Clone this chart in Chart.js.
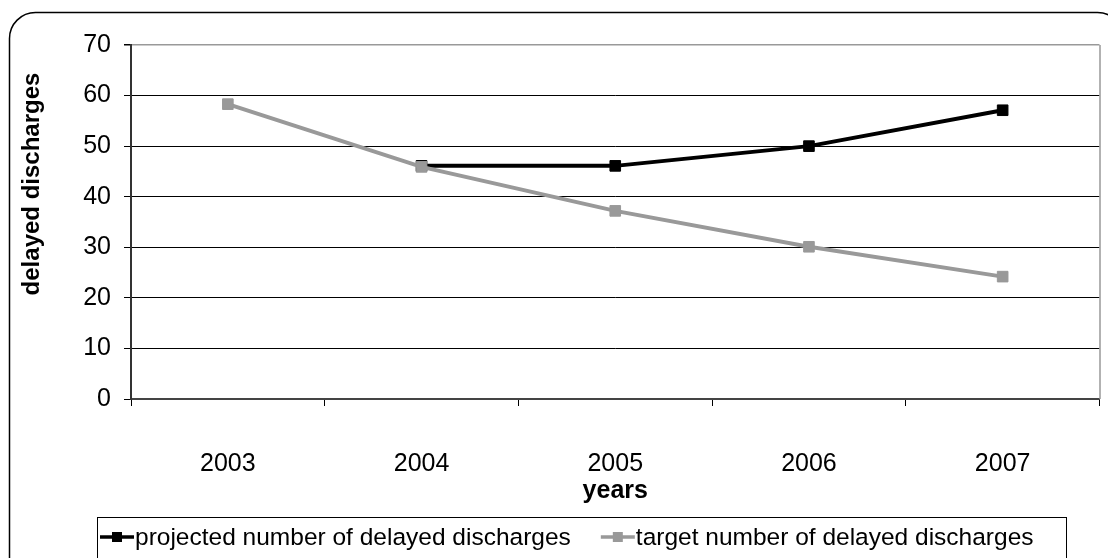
<!DOCTYPE html>
<html>
<head>
<meta charset="utf-8">
<script src="https://cdn.jsdelivr.net/npm/chart.js@4/dist/chart.umd.min.js"></script>
<style>
  html, body { margin: 0; padding: 0; background: #ffffff; }
  #wrap { width: 1108px; height: 558px; }
</style>
</head>
<body>
<div id="wrap"><canvas id="c" width="1108" height="558"></canvas></div>
<script>
const categories = ['2003', '2004', '2005', '2006', '2007'];
const projected = [null, 46.1, 46.1, 50.0, 57.1];
const target = [58.3, 45.9, 37.2, 30.1, 24.2];
const seriesNames = ['projected number of delayed discharges', 'target number of delayed discharges'];
const seriesColors = ['#000000', '#999999'];
const yTitle = 'delayed discharges';
const xTitle = 'years';
const yMin = 0, yMax = 70, yStep = 10;

const FONT = '"Liberation Sans", Arial, sans-serif';

const framePlugin = {
  id: 'frame',
  beforeDraw(chart) {
    const ctx = chart.ctx;
    ctx.save();
    ctx.fillStyle = '#ffffff';
    ctx.fillRect(0, 0, chart.width, chart.height);
    ctx.beginPath();
    ctx.lineWidth = 1.5;
    ctx.strokeStyle = '#000000';
    ctx.roundRect(9.5, 12.5, 1114, 572, 26);
    ctx.stroke();
    ctx.restore();
  },
  beforeDatasetsDraw(chart) {
    const ctx = chart.ctx, a = chart.chartArea;
    ctx.save();
    ctx.strokeStyle = '#999999';
    ctx.lineWidth = 1.5;
    ctx.beginPath();
    ctx.moveTo(a.right + 0.5, a.top);
    ctx.lineTo(a.right + 0.5, a.bottom);
    ctx.stroke();
    ctx.restore();
  },
  afterDraw(chart) {
    const ctx = chart.ctx;
    ctx.save();
    // y axis title
    ctx.fillStyle = '#000000';
    ctx.font = 'bold 24px ' + FONT;
    ctx.textAlign = 'center';
    ctx.textBaseline = 'middle';
    ctx.translate(32, 184);
    ctx.rotate(-Math.PI / 2);
    ctx.fillText(yTitle, 0, 0);
    ctx.restore();

    // legend
    ctx.save();
    ctx.strokeStyle = '#000000';
    ctx.lineWidth = 1;
    ctx.strokeRect(97.5, 517.5, 969, 60);
    ctx.font = '24.5px ' + FONT;
    ctx.textBaseline = 'middle';
    ctx.textAlign = 'left';
    const cy = 537;
    let x = 100;
    chart.data.datasets.forEach((ds) => {
      ctx.strokeStyle = ds.borderColor;
      ctx.lineWidth = 3.5;
      ctx.beginPath();
      ctx.moveTo(x, cy);
      ctx.lineTo(x + 34, cy);
      ctx.stroke();
      ctx.fillStyle = ds.borderColor;
      ctx.fillRect(x + 12, cy - 5, 10, 10);
      ctx.fillStyle = '#000000';
      ctx.fillText(ds.label, x + 35, cy + 1);
      x += 35 + ctx.measureText(ds.label).width + 30;
    });
    ctx.restore();
  }
};

new Chart(document.getElementById('c'), {
  type: 'line',
  data: {
    labels: categories,
    datasets: [
      {
        label: seriesNames[0],
        data: projected,
        borderColor: seriesColors[0],
        backgroundColor: seriesColors[0],
        borderWidth: 4,
        pointStyle: 'rect',
        pointRadius: 7.5,
        pointBorderWidth: 1,
        pointBackgroundColor: seriesColors[0],
        pointBorderColor: seriesColors[0],
        tension: 0,
        spanGaps: false,
        order: 2
      },
      {
        label: seriesNames[1],
        data: target,
        borderColor: seriesColors[1],
        backgroundColor: seriesColors[1],
        borderWidth: 4,
        pointStyle: 'rect',
        pointRadius: 7.5,
        pointBorderWidth: 1,
        pointBackgroundColor: seriesColors[1],
        pointBorderColor: seriesColors[1],
        tension: 0,
        order: 1
      }
    ]
  },
  options: {
    responsive: false,
    animation: false,
    devicePixelRatio: 1,
    layout: { padding: { left: 0, right: 8, top: 45, bottom: 0 } },
    plugins: {
      legend: { display: false },
      tooltip: { enabled: false }
    },
    scales: {
      x: {
        type: 'category',
        offset: true,
        grid: {
          offset: true,
          drawOnChartArea: false,
          drawTicks: true,
          tickLength: 7,
          tickColor: '#000000',
          tickWidth: 1
        },
        border: { display: true, color: '#444444', width: 2 },
        ticks: {
          color: '#000000',
          font: { family: FONT, size: 25 },
          padding: 43,
          maxRotation: 0
        },
        title: {
          display: true,
          text: xTitle,
          color: '#000000',
          font: { family: FONT, size: 25, weight: 'bold' },
          padding: { top: 0, bottom: 52 }
        },
        afterFit(scale) { scale.height = 159; }
      },
      y: {
        min: yMin,
        max: yMax,
        grid: {
          color: (c) => (c.tick && c.tick.value === yMax ? '#999999' : '#000000'),
          lineWidth: (c) => (c.tick && c.tick.value === yMax ? 1.5 : 1),
          drawTicks: true,
          tickLength: 7,
          tickColor: '#000000'
        },
        border: { display: true, color: '#333333', width: 2 },
        ticks: {
          stepSize: yStep,
          color: '#000000',
          font: { family: FONT, size: 25 },
          padding: 13
        },
        afterFit(scale) { scale.width = 131; }
      }
    }
  },
  plugins: [framePlugin]
});
</script>
</body>
</html>
